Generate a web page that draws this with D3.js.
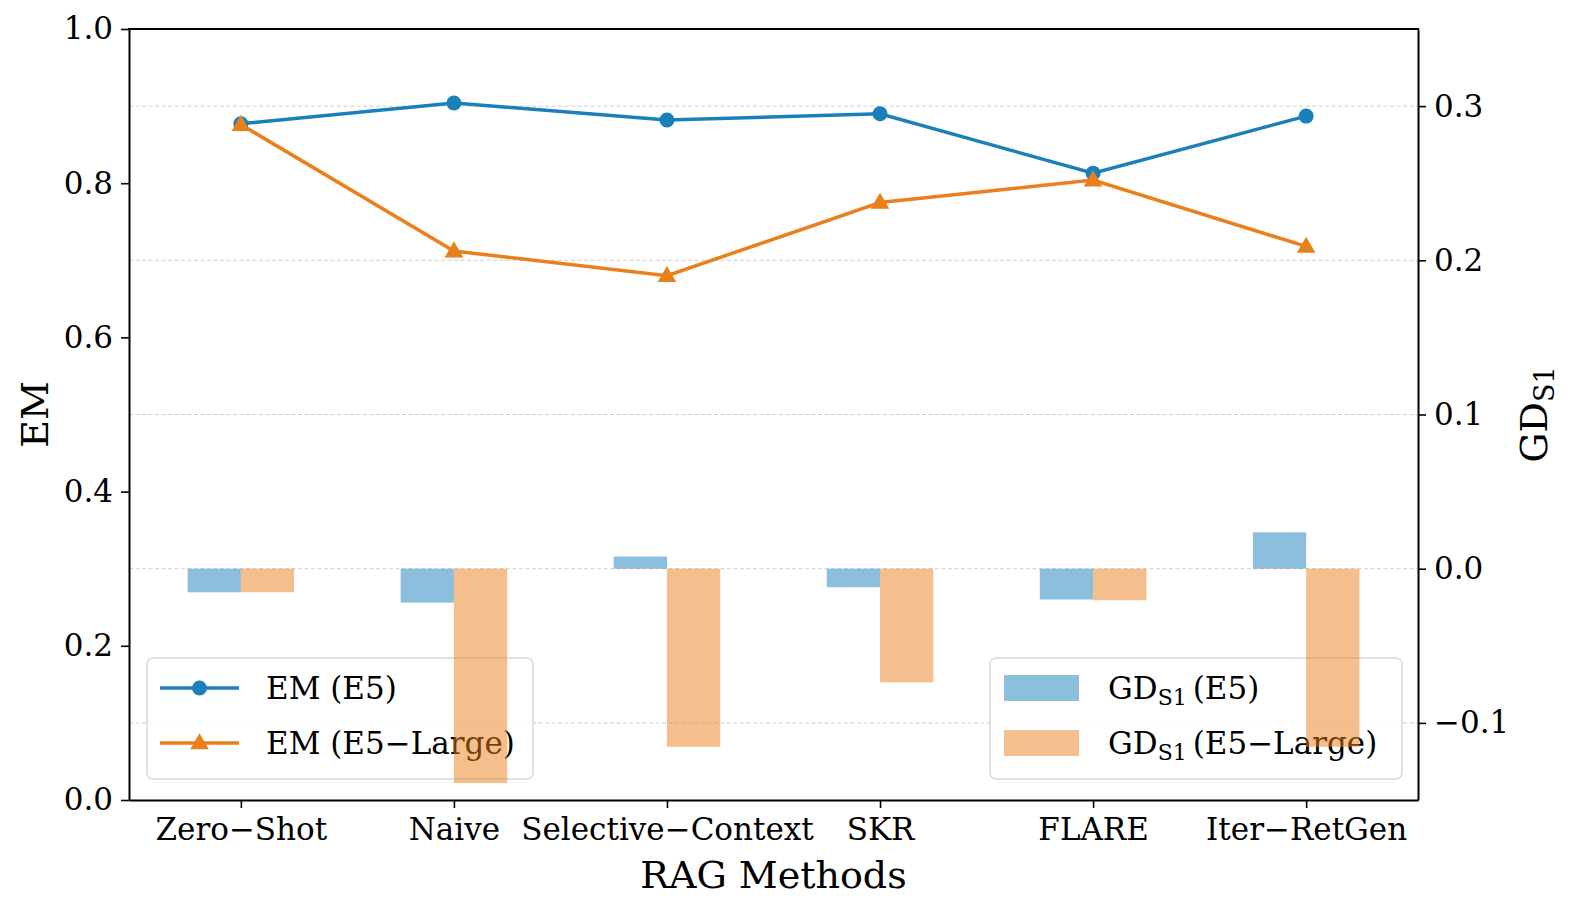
<!DOCTYPE html>
<html>
<head>
<meta charset="utf-8">
<script src="https://cdn.jsdelivr.net/npm/d3@7"></script>
<style>
  body { margin: 0; background: #fff; }
  text { font-family: "DejaVu Serif", serif; fill: #000; }
</style>
</head>
<body>
<div id="chart"></div>
<script>
// data
const methods = ["Zero\u2212Shot", "Naive", "Selective\u2212Context", "SKR", "FLARE", "Iter\u2212RetGen"];
const emE5 = [0.877, 0.904, 0.882, 0.890, 0.813, 0.887];
const emE5Large = [0.876, 0.712, 0.680, 0.775, 0.804, 0.718];
const gdE5 = [-0.0153, -0.022, 0.0079, -0.012, -0.020, 0.0236];
const gdE5Large = [-0.0153, -0.139, -0.1155, -0.0737, -0.0205, -0.1155];
const emTicks = [0, 0.2, 0.4, 0.6, 0.8, 1.0];
const gdTicks = [-0.1, 0, 0.1, 0.2, 0.3];

const width = 1578, height = 915;
const margin = { top: 29, right: 160, bottom: 115, left: 129 };

const blue = "#1a80bb", orange = "#ea801c";

const svg = d3.select("#chart").append("svg")
  .attr("width", width).attr("height", height);

const barW = 0.25;
const x = d3.scaleLinear()
  .domain([-0.525, methods.length - 1 + 0.525])
  .range([margin.left, width - margin.right]);

const yEM = d3.scaleLinear().domain([0, 1]).range([height - margin.bottom, margin.top]);
const yGD = d3.scaleLinear().domain([-0.15, 0.35]).range([height - margin.bottom, margin.top]);

const fmt = d => d3.format(".1f")(d).replace("-", "\u2212");

// grid (from the right axis ticks)
svg.append("g").selectAll("line").data(gdTicks).join("line")
  .attr("x1", margin.left).attr("x2", width - margin.right)
  .attr("y1", d => yGD(d)).attr("y2", d => yGD(d))
  .attr("stroke", "#cfcfcf").attr("stroke-width", 1)
  .attr("stroke-dasharray", "4,2.5");

// EM lines
const line = d3.line().x((d, i) => x(i)).y(d => yEM(d));
svg.append("path").datum(emE5).attr("d", line)
  .attr("fill", "none").attr("stroke", blue).attr("stroke-width", 3.5);
svg.append("path").datum(emE5Large).attr("d", line)
  .attr("fill", "none").attr("stroke", orange).attr("stroke-width", 3.5);

svg.append("g").selectAll("circle").data(emE5).join("circle")
  .attr("cx", (d, i) => x(i)).attr("cy", d => yEM(d)).attr("r", 7.5)
  .attr("fill", blue);

const tri = d3.symbol().type(d3.symbolTriangle).size(150);
svg.append("g").selectAll("path").data(emE5Large).join("path")
  .attr("transform", (d, i) => `translate(${x(i)},${yEM(d) + 1})`)
  .attr("d", tri).attr("fill", orange);

// legend for the lines
const leg1 = svg.append("g");
leg1.append("rect").attr("x", 147).attr("y", 658).attr("width", 386).attr("height", 121)
  .attr("rx", 6).attr("fill", "#fff").attr("fill-opacity", 0.8)
  .attr("stroke", "#d9d9d9").attr("stroke-width", 1.5);
[["EM (E5)", blue, "circle"], ["EM (E5\u2212Large)", orange, "tri"]].forEach((s, i) => {
  const yy = 688 + i * 55;
  leg1.append("line").attr("x1", 160).attr("x2", 239).attr("y1", yy).attr("y2", yy)
    .attr("stroke", s[1]).attr("stroke-width", 3.5);
  if (s[2] === "circle") {
    leg1.append("circle").attr("cx", 199.5).attr("cy", yy).attr("r", 7.5).attr("fill", s[1]);
  } else {
    leg1.append("path").attr("transform", `translate(199.5,${yy + 1})`).attr("d", tri).attr("fill", s[1]);
  }
  leg1.append("text").attr("x", 266).attr("y", yy + 11).attr("font-size", 31).text(s[0]);
});

// legend for the bars
const leg2 = svg.append("g");
leg2.append("rect").attr("x", 990).attr("y", 658).attr("width", 412).attr("height", 121)
  .attr("rx", 6).attr("fill", "#fff").attr("fill-opacity", 0.8)
  .attr("stroke", "#d9d9d9").attr("stroke-width", 1.5);
[["(E5)", blue], ["(E5\u2212Large)", orange]].forEach((s, i) => {
  const yy = 688 + i * 55;
  leg2.append("rect").attr("x", 1004).attr("y", yy - 13).attr("width", 75).attr("height", 26)
    .attr("fill", s[1]).attr("fill-opacity", 0.5);
  const t = leg2.append("text").attr("x", 1108).attr("y", yy + 11).attr("font-size", 31);
  t.append("tspan").text("GD");
  t.append("tspan").attr("font-size", 22).attr("dy", 6).text("S1");
  t.append("tspan").attr("dy", -6).attr("dx", 6).text(s[0]);
});

// GD bars (drawn over the line legend, as in the figure)
const bars = svg.append("g");
bars.selectAll(".b1").data(gdE5).join("rect").attr("class", "b1")
  .attr("x", (d, i) => x(i - barW))
  .attr("width", x(barW) - x(0))
  .attr("y", d => yGD(Math.max(0, d)))
  .attr("height", d => Math.abs(yGD(d) - yGD(0)))
  .attr("fill", blue).attr("fill-opacity", 0.5);
bars.selectAll(".b2").data(gdE5Large).join("rect").attr("class", "b2")
  .attr("x", (d, i) => x(i))
  .attr("width", x(barW) - x(0))
  .attr("y", d => yGD(Math.max(0, d)))
  .attr("height", d => Math.abs(yGD(d) - yGD(0)))
  .attr("fill", orange).attr("fill-opacity", 0.5);

// axes
const axL = svg.append("g").attr("transform", `translate(${margin.left},0)`)
  .call(d3.axisLeft(yEM).tickValues(emTicks).tickFormat(fmt).tickSize(8).tickSizeOuter(0).tickPadding(8));
const axR = svg.append("g").attr("transform", `translate(${width - margin.right},0)`)
  .call(d3.axisRight(yGD).tickValues(gdTicks).tickFormat(fmt).tickSize(8).tickSizeOuter(0).tickPadding(8));
const axB = svg.append("g").attr("transform", `translate(0,${height - margin.bottom})`)
  .call(d3.axisBottom(x).tickValues(d3.range(methods.length)).tickFormat(i => methods[i]).tickSize(8).tickSizeOuter(0).tickPadding(10));
svg.append("line").attr("x1", margin.left - 1).attr("x2", width - margin.right + 1)
  .attr("y1", margin.top).attr("y2", margin.top).attr("stroke", "#000").attr("stroke-width", 2);

[axL, axR, axB].forEach(a => {
  a.selectAll("text").attr("font-size", 31).attr("font-family", "DejaVu Serif").attr("fill", "#000");
  a.selectAll("line").attr("stroke-width", 1.6);
  a.select(".domain").attr("stroke-width", 2);
});

// axis titles
svg.append("text").attr("x", (margin.left + width - margin.right) / 2).attr("y", 888)
  .attr("text-anchor", "middle").attr("font-size", 38).text("RAG Methods");
svg.append("text").attr("transform", `translate(48,${(margin.top + height - margin.bottom) / 2}) rotate(-90)`)
  .attr("text-anchor", "middle").attr("font-size", 38).text("EM");
const gdLab = svg.append("text")
  .attr("transform", `translate(1547,${(margin.top + height - margin.bottom) / 2}) rotate(-90)`)
  .attr("text-anchor", "middle").attr("font-size", 38);
gdLab.append("tspan").text("GD");
gdLab.append("tspan").attr("font-size", 27).attr("dy", 7).text("S1");
</script>
</body>
</html>
